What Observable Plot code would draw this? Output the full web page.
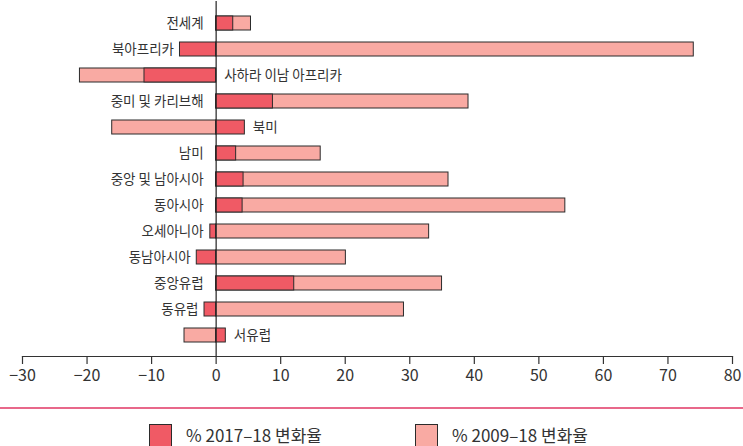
<!DOCTYPE html>
<html>
<head>
<meta charset="utf-8">
<script src="https://cdn.jsdelivr.net/npm/d3@7"></script>
<script src="https://cdn.jsdelivr.net/npm/@observablehq/plot@0.6"></script>
<style>
  html, body { margin: 0; padding: 0; background: #fff; }
  body { width: 743px; height: 446px; overflow: hidden; position: relative; font-family: "Noto Sans CJK KR", "Noto Sans", sans-serif; color: #333; }
  #chart svg { display: block; }
  #sep { position: absolute; left: 0; top: 407px; width: 743px; height: 2px; background: #e8688a; }
  .item { position: absolute; top: 424px; display: flex; align-items: flex-start; }
  .sw { width: 21px; height: 22px; border: 1px solid #2b2b2b; box-sizing: content-box; }
  .lab { font-size: 17px; line-height: 22px; margin-left: 14px; color: #333; white-space: nowrap; }
</style>
</head>
<body>
<div id="chart"></div>
<div id="sep"></div>
<div id="legend"></div>
<script>
const regions = ["전세계", "북아프리카", "사하라 이남 아프리카", "중미 및 카리브해", "북미", "남미", "중앙 및 남아시아", "동아시아", "오세아니아", "동남아시아", "중앙유럽", "동유럽", "서유럽"];
const change2017_18 = [2.65, -5.6, -11.1, 8.8, 4.45, 3.1, 4.25, 4.1, -0.9, -3.0, 12.1, -1.8, 1.5];
const change2009_18 = [5.4, 74.0, -21.1, 39.1, -16.1, 16.2, 36.0, 54.1, 33.0, 20.1, 35.0, 29.1, -4.9];
const seriesNames = ["% 2017–18 변화율", "% 2009–18 변화율"];
const seriesColors = ["#f05a65", "#f9aaa3"];
const xTicks = [-30, -20, -10, 0, 10, 20, 30, 40, 50, 60, 70, 80];

const data = regions.map((r, i) => ({region: r, dark: change2017_18[i], light: change2009_18[i]}));
const leftLabels = data.filter(d => d.light >= 0);
const rightLabels = data.filter(d => d.light < 0);

const chart = Plot.plot({
  width: 743,
  height: 396,
  marginTop: 1,
  marginBottom: 40,
  marginLeft: 22,
  marginRight: 11,
  style: {fontFamily: '"Noto Sans CJK KR", "Noto Sans", sans-serif', color: "#333", background: "#fff"},
  x: {domain: [-30, 80], ticks: xTicks},
  y: {domain: regions, padding: 0.47, axis: null},
  marks: [
    Plot.barX(data, {x1: 0, x2: "light", y: "region", fill: seriesColors[1], stroke: "#2b2b2b", strokeWidth: 1}),
    Plot.barX(data, {x1: 0, x2: "dark", y: "region", fill: seriesColors[0], stroke: "#2b2b2b", strokeWidth: 1}),
    Plot.ruleX([0], {stroke: "#222", strokeWidth: 1.2}),
    Plot.frame({anchor: "bottom", stroke: "#333", strokeWidth: 1.2}),
    Plot.axisX({ticks: xTicks, tickSize: 8, tickPadding: 5, fontSize: 16, stroke: "#333", strokeWidth: 1.2,
      tickFormat: d => d < 0 ? "\u2212" + Math.abs(d) : String(d)}),
    Plot.text(leftLabels, {x: d => Math.min(d.dark, d.light, -1), y: "region", text: "region", textAnchor: "end", dx: -6, fontSize: 13.5, fill: "#333"}),
    Plot.text(rightLabels, {x: d => Math.max(d.dark, d.light, 0), y: "region", text: "region", textAnchor: "start", dx: 8, fontSize: 13.5, fill: "#333"})
  ]
});
document.getElementById("chart").appendChild(chart);

const legendLeft = [149, 415];
const legend = document.getElementById("legend");
seriesNames.forEach((name, i) => {
  const item = document.createElement("div");
  item.className = "item";
  item.style.left = legendLeft[i] + "px";
  const sw = document.createElement("div");
  sw.className = "sw";
  sw.style.background = seriesColors[i];
  const lab = document.createElement("span");
  lab.className = "lab";
  lab.textContent = name;
  item.appendChild(sw);
  item.appendChild(lab);
  legend.appendChild(item);
});
</script>
</body>
</html>
